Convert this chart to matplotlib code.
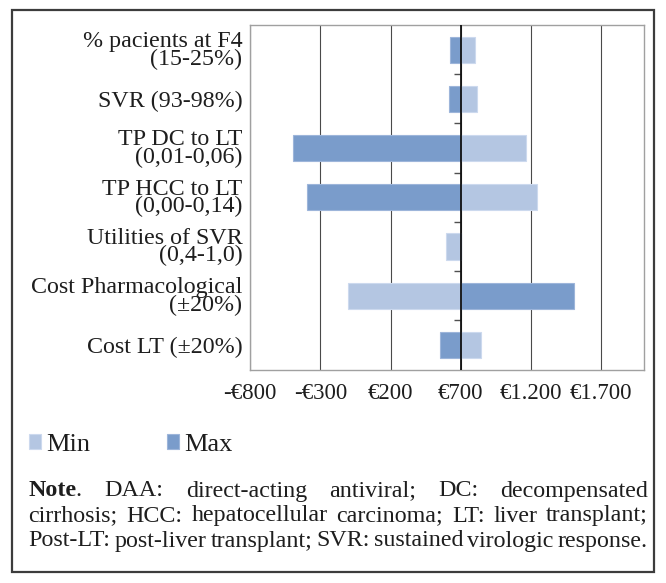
import matplotlib
matplotlib.use("Agg")
import matplotlib.pyplot as plt
from matplotlib.patches import Rectangle
import numpy as np

# ---------------- data ----------------
categories = ["% pacients at F4\n(15-25%)", "SVR (93-98%)", "TP DC to LT\n(0,01-0,06)",
              "TP HCC to LT\n(0,00-0,14)", "Utilities of SVR\n(0,4-1,0)",
              "Cost Pharmacological\n(±20%)", "Cost LT (±20%)"]
baseline = 700
min_values = [800, 815, 1167, 1245, 595, -103, 841]
max_values = [625, 619, -495, -394, 700, 1503, 554]
x_ticks = [-800, -300, 200, 700, 1200, 1700]
x_tick_labels = ["-€800", "-€300", "€200", "€700", "€1.200", "€1.700"]
series_labels = ["Min", "Max"]
note_lines = [
    [[("Note", "bold"), (".", "normal")], [("DAA:", "normal")], [("direct-acting", "normal")],
     [("antiviral;", "normal")], [("DC:", "normal")], [("decompensated", "normal")]],
    [[(w, "normal")] for w in "cirrhosis; HCC: hepatocellular carcinoma; LT: liver transplant;".split()],
    [[(w, "normal")] for w in "Post-LT: post-liver transplant; SVR: sustained virologic response.".split()],
]

# ---------------- style ----------------
W, H = 666, 583
FONT = "Liberation Serif"
TXT = "#1e1e1e"
C_MIN = "#B4C6E2"
C_MAX = "#7A9CCB"
plt.rcParams["font.family"] = [FONT, "DejaVu Serif"]

fig = plt.figure(figsize=(W / 100, H / 100), dpi=100)

def fx(px):
    return px / W

def fy(py):
    return 1 - py / H

ax = fig.add_axes([fx(250), fy(369.5), fx(643.5) - fx(250), fy(25) - fy(369.5)])

y = np.arange(len(categories))
bh = 0.53
b_min = ax.barh(y, np.array(min_values) - baseline, left=baseline, height=bh,
                color=C_MIN, edgecolor="#CCD9EE", linewidth=0.8, zorder=3)
b_max = ax.barh(y, np.array(max_values) - baseline, left=baseline, height=bh,
                color=C_MAX, edgecolor="#9DB5DA", linewidth=0.8, zorder=3)

ax.set_xlim(-800, 2000)
ax.set_ylim(len(categories) - 0.5, -0.5)
ax.set_xticks(x_ticks, x_tick_labels)
ax.set_yticks(y, categories)
ax.tick_params(axis="both", length=0, colors=TXT)
ax.tick_params(axis="y", pad=5.5, labelsize=17.3)
ax.tick_params(axis="x", pad=9.5, labelsize=16.5)
for t in ax.get_yticklabels():
    t.set_linespacing(0.78)

ax.grid(axis="x", color="#4a4a4a", linewidth=0.8, zorder=1)
ax.grid(axis="y", visible=False)
for s in ax.spines.values():
    s.set_color("#a0a0a0")
    s.set_linewidth(1.0)

# category axis crossing at the baseline
frac = (baseline - ax.get_xlim()[0]) / (ax.get_xlim()[1] - ax.get_xlim()[0])
sec = ax.secondary_yaxis(frac)
sec.set_alignment("left")
sec.set_yticks(np.arange(1, len(categories)) - 0.5)
sec.tick_params(axis="y", direction="out", length=5, width=1, color="#505050", labelleft=False,
                labelright=False)
for s in sec.spines.values():
    s.set_color("#111111")
    s.set_linewidth(1.3)
    s.set_capstyle("butt")
sec.set_zorder(4)

# legend
fig.legend([b_min, b_max], series_labels, loc="center left",
           bbox_to_anchor=(fx(29), fy(445)), ncol=2, frameon=False,
           fontsize=19, handlelength=0.46, handleheight=0.46, handletextpad=0.2,
           columnspacing=2.9, borderpad=0, borderaxespad=0, labelcolor=TXT)

# outer frame
fig.patches.append(Rectangle((fx(12), fy(572)), fx(654) - fx(12), fy(9.5) - fy(572),
                             transform=fig.transFigure, fill=False, edgecolor="#3c3c3c",
                             linewidth=1.6))

# justified note
renderer = fig.canvas.get_renderer()
NOTE_FS = 17.3
x0, x1 = 28.5, 648
baselines = [496.5, 521.5, 546.5]
for words, by in zip(note_lines, baselines):
    placed = []
    total = 0
    for word in words:
        parts = []
        wsum = 0
        for s, wt in word:
            t = fig.text(0, fy(by), s, fontsize=NOTE_FS, fontweight=wt, color=TXT,
                         va="baseline", ha="left")
            w = t.get_window_extent(renderer).width
            parts.append((t, w))
            wsum += w
        placed.append((parts, wsum))
        total += wsum
    gap = (x1 - x0 - total) / (len(words) - 1)
    cx = x0
    for parts, wsum in placed:
        px = cx
        for t, w in parts:
            t.set_x(fx(px))
            px += w - 1.0
        cx += wsum + gap

fig.savefig("out.png", dpi=100)
